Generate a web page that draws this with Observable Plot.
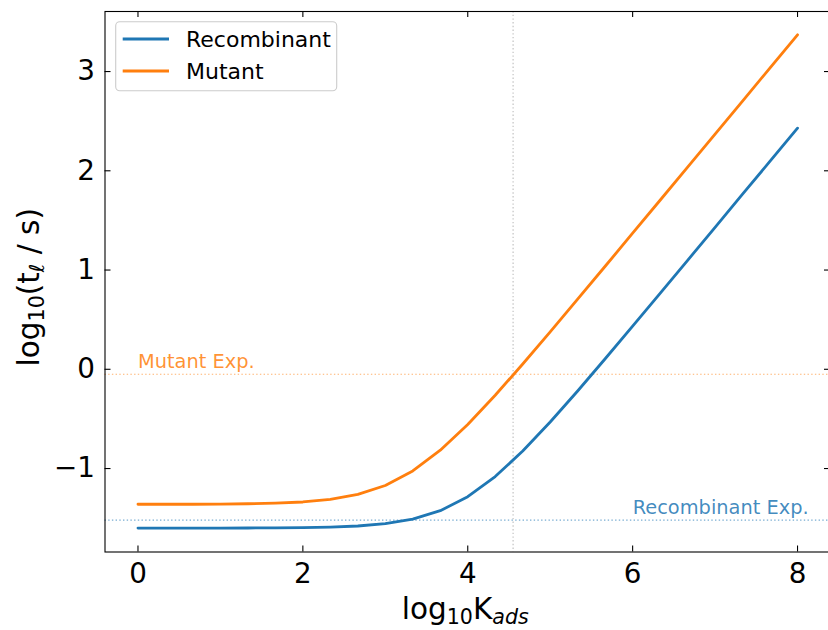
<!DOCTYPE html>
<html>
<head>
<meta charset="utf-8">
<script src="https://cdn.jsdelivr.net/npm/d3@7"></script>
<script src="https://cdn.jsdelivr.net/npm/@observablehq/plot@0.6"></script>
<style>
  html, body { margin: 0; padding: 0; background: white; overflow: hidden; }
  #chart svg { display: block; }
</style>
</head>
<body>
<div id="chart"></div>
<script>
// ---- data ----
const logK = [0, 0.333, 0.667, 1, 1.333, 1.667, 2, 2.333, 2.667, 3, 3.333, 3.667, 4,
              4.333, 4.667, 5, 5.333, 5.667, 6, 6.333, 6.667, 7, 7.333, 7.667, 8];
const recombinant = [-1.600, -1.600, -1.600, -1.600, -1.599, -1.598, -1.595, -1.590, -1.579,
                     -1.556, -1.510, -1.425, -1.284, -1.081, -0.824, -0.531, -0.219, 0.106,
                     0.434, 0.765, 1.098, 1.430, 1.764, 2.097, 2.430];
const mutant = [-1.360, -1.360, -1.360, -1.358, -1.355, -1.349, -1.337, -1.311, -1.261,
                -1.171, -1.024, -0.815, -0.556, -0.262, 0.053, 0.377, 0.707, 1.038,
                1.371, 1.703, 2.037, 2.370, 2.703, 3.037, 3.370];
const seriesNames = ["Recombinant", "Mutant"];
const seriesColors = ["#1f77b4", "#ff7f0e"];
const expNames = ["Mutant Exp.", "Recombinant Exp."];
const expValues = [-0.05, -1.52];
const expLabelX = [0, 6];
const expColors = ["#ff7f0e", "#1f77b4"];
const markerK = [4.55];
const xTicks = [0, 2, 4, 6, 8];
const yTicks = [-1, 0, 1, 2, 3];

// ---- layout ----
const W = 830, H = 630;
const mL = 104.5, mR = 0, mT = 11, mB = 78.5;
const frameW = W - mL - mR, frameH = H - mT - mB;
const tickLen = 6;
const font = "DejaVu Sans";
const labelSize = 29.5, subSize = 20.6;
const fmt = d => (d < 0 ? "\u2212" : "") + Math.abs(d);

const expRows = expNames.map((n, i) => ({name: n, y: expValues[i], x: expLabelX[i], c: expColors[i]}));

const chart = Plot.plot({
  width: W, height: H,
  marginLeft: mL, marginRight: mR, marginTop: mT, marginBottom: mB,
  style: {fontFamily: font, fontSize: "27.8px", background: "white", maxWidth: "none", color: "black"},
  x: {domain: [-0.4, 8.4], label: null},
  y: {domain: [-1.841, 3.605], label: null},
  marks: [
    Plot.ruleX(markerK, {x: d => d, stroke: "#999999", strokeOpacity: 0.6, strokeWidth: 1.2, strokeDasharray: "1.4,2.3"}),
    Plot.ruleY(expRows, {y: "y", stroke: "c", strokeOpacity: 0.6, strokeWidth: 1.2, strokeDasharray: "1.4,2.3"}),
    Plot.line(recombinant, {x: (d, i) => logK[i], y: d => d, stroke: seriesColors[0], strokeWidth: 2.8, strokeLinejoin: "round"}),
    Plot.line(mutant, {x: (d, i) => logK[i], y: d => d, stroke: seriesColors[1], strokeWidth: 2.8, strokeLinejoin: "round"}),
    Plot.text(expRows, {x: "x", y: "y", text: "name", fill: "c", fillOpacity: 0.85, textAnchor: "start",
                        lineAnchor: "bottom", dy: -6, fontSize: 19.4, fontFamily: font}),
    Plot.frame({stroke: "black", strokeWidth: 1.1}),
    Plot.tickX(xTicks, {x: d => d, insetTop: frameH - tickLen, stroke: "black", strokeWidth: 1.1}),
    Plot.tickX(xTicks, {x: d => d, insetBottom: frameH - tickLen, stroke: "black", strokeWidth: 1.1}),
    Plot.tickY(yTicks, {y: d => d, insetRight: frameW - tickLen, stroke: "black", strokeWidth: 1.1}),
    Plot.tickY(yTicks, {y: d => d, insetLeft: frameW - tickLen, stroke: "black", strokeWidth: 1.1}),
    Plot.axisX(xTicks, {tickSize: 0, tickPadding: 11, fontSize: 27.8, label: null, tickFormat: fmt}),
    Plot.axisY(yTicks, {tickSize: 0, tickPadding: 10, fontSize: 27.8, label: null, tickFormat: fmt})
  ]
});
document.getElementById("chart").appendChild(chart);

// ---- axis titles and legend (text and swatches) ----
const svg = d3.select(chart);
const xl = svg.append("text")
  .attr("x", mL + frameW / 2 - 2).attr("y", 619)
  .attr("text-anchor", "middle").attr("font-family", font).attr("font-size", labelSize).attr("fill", "black");
xl.append("tspan").text("log");
xl.append("tspan").attr("font-size", subSize).attr("dy", 5).text("10");
xl.append("tspan").attr("dy", -5).text("K");
xl.append("tspan").attr("font-size", subSize).attr("font-style", "italic").attr("dy", 5).text("ads");

const yl = svg.append("text")
  .attr("transform", `translate(39,${mT + frameH / 2 + 6}) rotate(-90)`)
  .attr("text-anchor", "middle").attr("font-family", font).attr("font-size", labelSize).attr("fill", "black");
yl.append("tspan").text("log");
yl.append("tspan").attr("font-size", subSize).attr("dy", 5).text("10");
yl.append("tspan").attr("dy", -5).text("(t");
yl.append("tspan").attr("font-size", subSize).attr("font-style", "italic").attr("dy", 5).text("\u2113");
yl.append("tspan").attr("dy", -5).text(" / s)");

const lg = svg.append("g").attr("text-anchor", "start");
lg.append("rect").attr("x", 115.7).attr("y", 21.7).attr("width", 221).attr("height", 69)
  .attr("rx", 4).attr("fill", "white").attr("fill-opacity", 0.8).attr("stroke", "#cccccc").attr("stroke-width", 1.1);
seriesNames.forEach((name, i) => {
  const yy = 39 + i * 32;
  lg.append("line").attr("x1", 122.7).attr("x2", 169).attr("y1", yy).attr("y2", yy)
    .attr("stroke", seriesColors[i]).attr("stroke-width", 2.8);
  lg.append("text").attr("x", 186).attr("y", yy + 8).attr("text-anchor", "start").attr("font-family", font)
    .attr("font-size", 22).attr("fill", "black").text(name);
});
</script>
</body>
</html>
